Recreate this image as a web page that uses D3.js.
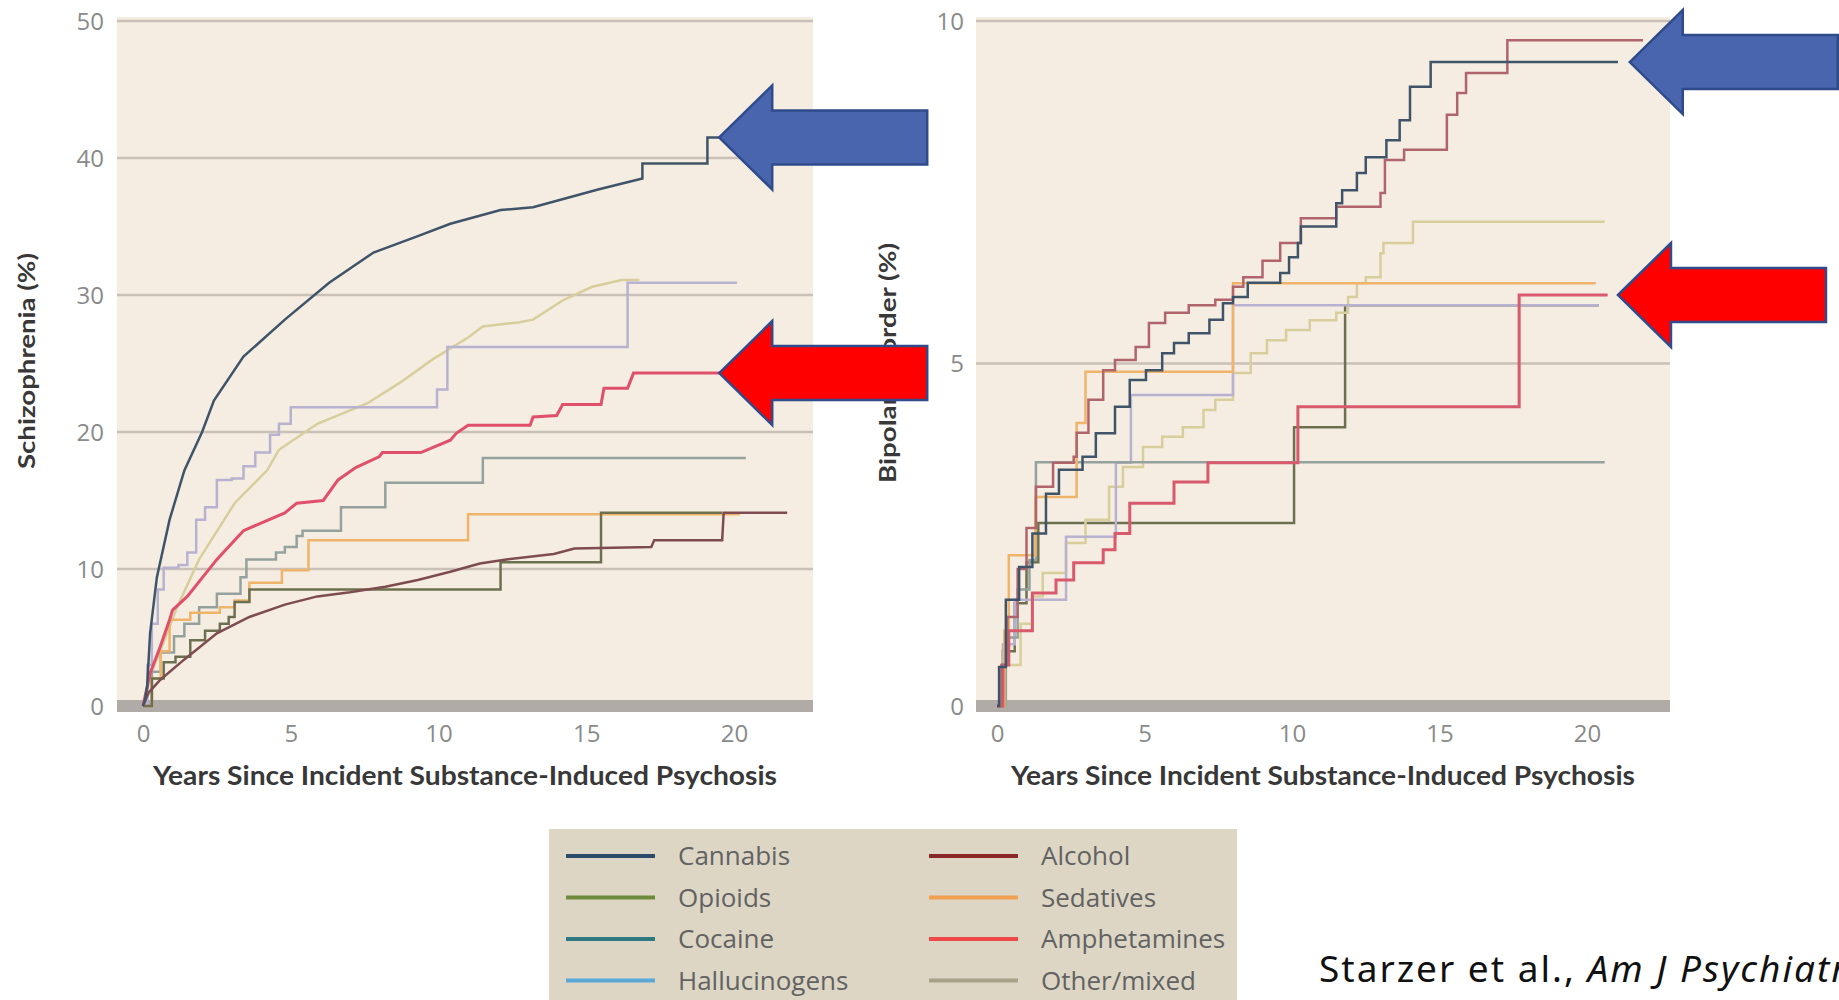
<!DOCTYPE html>
<html>
<head>
<meta charset="utf-8">
<script src="https://cdn.jsdelivr.net/npm/d3@7"></script>
<style>
  body { margin: 0; background: #fff; }
  svg { display: block; }
</style>
</head>
<body>
<div id="container"></div>
<script>
// categories and ticks
const categories = ["Cannabis", "Opioids", "Cocaine", "Hallucinogens", "Alcohol", "Sedatives", "Amphetamines", "Other/mixed"];
const xTickValues = [0, 5, 10, 15, 20];
const schizTicks = [0, 10, 20, 30, 40, 50];
const bipolarTicks = [0, 5, 10];

// Schizophrenia (%), [years, value]
const schizCannabis = [[0,0],[0.07,0.5],[0.14,1.4],[0.24,5.3],[0.47,9.4],[0.9,13.6],[1.4,17.2],[2.0,20.0],[2.4,22.3],[3.4,25.5],[4.8,28.2],[6.3,30.9],[7.8,33.1],[9.3,34.3],[10.4,35.2],[12.1,36.2],[13.2,36.4],[15.4,37.7],[16.9,38.5],[16.9,39.6],[19.1,39.6],[19.1,41.5],[19.6,41.5]];
const schizOther = [[0,0],[0.3,2.5],[0.6,4.1],[1.15,7.2],[1.9,10.7],[3.1,14.8],[4.2,17.2],[4.6,18.7],[5.9,20.6],[7.6,22.1],[8.7,23.6],[9.8,25.3],[11.0,26.9],[11.5,27.7],[12.7,28.0],[13.2,28.2],[14.2,29.6],[15.2,30.6],[16.2,31.1],[16.8,31.1]];
const schizHallucinogens = [[0,0],[0.15,3],[0.3,6],[0.5,8.5],[0.7,10.1],[1.2,10.3],[1.5,11.2],[1.8,13.6],[2.1,14.5],[2.5,16.5],[3.0,16.6],[3.4,17.5],[3.8,18.5],[4.3,19.8],[4.6,20.6],[5.0,21.8],[9.95,23.1],[10.3,26.2],[16.4,30.9],[20.1,30.9]];
const schizAmphetamines = [[0,0],[0.24,2.4],[0.58,4.3],[0.9,6.3],[1.0,7.0],[1.5,8.0],[2.5,10.7],[3.4,12.8],[4.8,14.1],[5.2,14.8],[6.1,15.0],[6.6,16.5],[7.2,17.4],[8.0,18.2],[8.1,18.5],[9.4,18.5],[10.4,19.4],[10.6,19.9],[11.0,20.5],[13.1,20.5],[13.2,21.1],[14.0,21.2],[14.2,22.0],[15.5,22.0],[15.6,23.2],[16.4,23.2],[16.6,24.3],[19.6,24.3]];
const schizCocaine = [[0,0],[0.3,2.5],[0.6,3.9],[1.05,5.1],[1.4,6.0],[1.9,7.2],[2.5,8.2],[3.3,9.4],[3.5,10.7],[4.5,11.2],[4.8,11.6],[5.2,12.4],[5.4,12.8],[6.7,14.5],[8.2,16.3],[11.5,18.1],[20.4,18.1]];
const schizSedatives = [[0,0],[0.3,2.0],[0.6,4.0],[0.9,6.3],[1.6,6.8],[2.6,7.2],[3.1,7.7],[3.6,9.0],[4.7,9.9],[5.6,12.1],[11.0,14.0],[20.2,14.0]];
const schizOpioids = [[0,0],[0.3,2.0],[0.7,3.2],[1.1,3.6],[1.6,4.8],[2.1,5.5],[2.6,6.0],[2.9,6.5],[3.1,7.6],[3.6,8.5],[12.1,10.5],[15.5,14.1],[19.6,14.1]];
const schizAlcohol = [[0,0],[0.2,1.0],[0.58,1.9],[1.4,3.4],[2.5,5.3],[3.6,6.5],[4.8,7.4],[5.9,8.0],[7.0,8.3],[8.2,8.7],[9.3,9.2],[10.4,9.8],[11.4,10.4],[12.3,10.7],[13.9,11.1],[14.6,11.5],[17.2,11.6],[17.3,12.1],[19.6,12.1],[19.65,14.1],[21.8,14.1]];

// Bipolar disorder (%), [years, value]
const bipCannabis = [[0,0],[0.07,0.57],[0.3,1.55],[0.75,2.03],[1.2,2.52],[1.66,3.1],[2.1,3.45],[2.9,3.64],[3.35,3.98],[4.0,4.37],[4.5,4.76],[5.05,4.9],[5.6,5.15],[6.0,5.3],[6.5,5.44],[7.2,5.64],[7.66,5.88],[8.0,5.97],[8.5,6.18],[9.6,6.32],[9.9,6.55],[10.2,6.76],[10.3,7.0],[11.5,7.34],[11.7,7.53],[12.2,7.78],[12.5,8.01],[13.2,8.26],[13.65,8.55],[14.0,9.04],[14.7,9.4],[21.05,9.4]];
const bipAlcohol = [[0,0],[0.15,0.6],[0.35,1.3],[0.7,2.0],[1.0,2.6],[1.32,3.2],[1.9,3.55],[2.6,3.64],[2.7,3.99],[3.1,4.47],[3.6,4.9],[4.0,5.05],[4.7,5.24],[5.15,5.59],[5.7,5.74],[6.5,5.85],[7.4,5.93],[8.0,6.12],[8.35,6.26],[9.0,6.5],[9.6,6.76],[10.3,7.12],[11.5,7.29],[13.0,7.49],[13.15,7.97],[13.8,8.12],[15.25,8.63],[15.6,8.95],[15.9,9.24],[17.3,9.72],[21.9,9.72]];
const bipOther = [[0,0],[0.3,0.6],[0.8,1.2],[1.2,1.6],[1.55,1.94],[2.34,2.38],[3.0,2.72],[3.8,3.2],[4.27,3.49],[4.95,3.78],[5.6,3.93],[6.3,4.07],[7.0,4.32],[7.4,4.47],[8.0,4.86],[8.6,5.15],[9.15,5.34],[9.8,5.49],[10.6,5.63],[11.5,5.74],[11.9,5.97],[12.2,6.17],[12.5,6.26],[13.0,6.61],[13.1,6.76],[14.1,7.07],[20.6,7.07]];
const bipSedatives = [[0,0],[0.25,1.1],[0.4,2.2],[1.3,3.05],[2.7,4.13],[3.0,4.88],[8.0,6.17],[20.3,6.17]];
const bipHallucinogens = [[0,0],[0.2,0.9],[0.6,1.55],[2.34,2.47],[4.03,3.55],[4.54,4.54],[8.0,5.85],[20.4,5.85]];
const bipAmphetamines = [[0,0],[0.2,0.6],[0.4,1.1],[1.2,1.65],[2.0,1.84],[2.6,2.09],[3.6,2.28],[4.0,2.52],[4.5,2.96],[6.0,3.27],[7.15,3.55],[10.2,4.37],[17.7,6.0],[20.7,6.0]];
const bipOpioids = [[0,0],[0.2,0.8],[0.6,1.5],[1.0,2.1],[1.4,2.67],[10.07,4.07],[11.8,5.85],[20.4,5.85]];
const bipCocaine = [[0,0],[0.3,1.0],[0.7,1.7],[1.1,2.13],[1.32,3.56],[20.6,3.56]];

// colours
const lineColor = {
  "Cannabis": "#3f5468", "Opioids": "#6d7050", "Cocaine": "#95a19c", "Hallucinogens": "#b8b1d0",
  "Alcohol": "#7e4c50", "Sedatives": "#efb46a", "Amphetamines": "#e0506a", "Other/mixed": "#d8ce9c"
};
const legendColor = {
  "Cannabis": "#2e4a6a", "Opioids": "#6e8a3a", "Cocaine": "#2e7a80", "Hallucinogens": "#5aa8d8",
  "Alcohol": "#8a2828", "Sedatives": "#f0a050", "Amphetamines": "#ee4848", "Other/mixed": "#a8a088"
};

const width = 1839, height = 1000;
const yTop = 21, yZero = 706;

const panels = [
  {
    title: "Schizophrenia (%)", titleLen: 216, yMax: 50, ticks: schizTicks,
    left: 117, right: 813, x0: 143, x20: 734, tickX: 104, titleX: 27, titleY: 361,
    series: [
      { name: "Other/mixed", data: schizOther, curve: d3.curveLinear },
      { name: "Hallucinogens", data: schizHallucinogens, curve: d3.curveStepAfter },
      { name: "Cocaine", data: schizCocaine, curve: d3.curveStepAfter },
      { name: "Sedatives", data: schizSedatives, curve: d3.curveStepAfter },
      { name: "Opioids", data: schizOpioids, curve: d3.curveStepAfter },
      { name: "Alcohol", data: schizAlcohol, curve: d3.curveLinear },
      { name: "Amphetamines", data: schizAmphetamines, curve: d3.curveLinear },
      { name: "Cannabis", data: schizCannabis, curve: d3.curveLinear }
    ],
    arrows: [
      { x: 19.5, y: 41.5, fill: "#4865ad" },
      { x: 19.5, y: 24.3, fill: "#ff0000" }
    ]
  },
  {
    title: "Bipolar disorder (%)", titleLen: 240, yMax: 10, ticks: bipolarTicks,
    left: 976, right: 1670, x0: 997, x20: 1587, tickX: 964, titleX: 888, titleY: 363,
    series: [
      { name: "Opioids", data: bipOpioids, curve: d3.curveStepAfter },
      { name: "Other/mixed", data: bipOther, curve: d3.curveStepAfter },
      { name: "Hallucinogens", data: bipHallucinogens, curve: d3.curveStepAfter },
      { name: "Cocaine", data: bipCocaine, curve: d3.curveStepAfter },
      { name: "Sedatives", data: bipSedatives, curve: d3.curveStepAfter },
      { name: "Amphetamines", data: bipAmphetamines, curve: d3.curveStepAfter, color: "#d85a6c" },
      { name: "Alcohol", data: bipAlcohol, curve: d3.curveStepAfter, color: "#b0646c" },
      { name: "Cannabis", data: bipCannabis, curve: d3.curveStepAfter }
    ],
    arrows: [
      { x: 21.45, y: 9.4, fill: "#4865ad" },
      { x: 21.05, y: 6.0, fill: "#ff0000" }
    ]
  }
];

const svg = d3.select("#container")
  .append("svg")
  .attr("width", width)
  .attr("height", height);

const arrowLayer = [];

panels.forEach(p => {
  const xScale = d3.scaleLinear().domain([0, 20]).range([p.x0, p.x20]);
  const yScale = d3.scaleLinear().domain([0, p.yMax]).range([yZero, yTop]);

  // plot background
  svg.append("rect")
    .attr("x", p.left)
    .attr("y", yTop - 4)
    .attr("width", p.right - p.left)
    .attr("height", yZero - yTop + 4)
    .attr("fill", "#f5ede2");

  // gridlines
  svg.append("g")
    .selectAll("line")
    .data(p.ticks.filter(t => t > 0))
    .join("line")
    .attr("x1", p.left)
    .attr("x2", p.right)
    .attr("y1", d => yScale(d))
    .attr("y2", d => yScale(d))
    .attr("stroke", "#c9c1b8")
    .attr("stroke-width", 2.5);

  // thick baseline
  svg.append("rect")
    .attr("x", p.left)
    .attr("y", yScale(0) - 6)
    .attr("width", p.right - p.left)
    .attr("height", 12)
    .attr("fill", "#b0aba6");

  // survival curves
  p.series.forEach(s => {
    const line = d3.line()
      .x(d => xScale(d[0]))
      .y(d => yScale(d[1]))
      .curve(s.curve);
    svg.append("path")
      .datum(s.data)
      .attr("fill", "none")
      .attr("stroke", s.color || lineColor[s.name])
      .attr("stroke-width", s.name === "Amphetamines" ? 3 : 2.5)
      .attr("d", line);
  });

  // axes
  svg.append("g")
    .attr("transform", `translate(0, 734)`)
    .call(d3.axisBottom(xScale).tickValues(xTickValues).tickSize(0).tickPadding(0))
    .call(g => g.select(".domain").remove())
    .call(g => g.selectAll("text")
      .attr("y", 0)
      .attr("dy", "0.35em")
      .attr("fill", "#8a8a8a")
      .style("font-family", "Open Sans")
      .style("font-size", "24px"));

  svg.append("g")
    .attr("transform", `translate(${p.tickX}, 0)`)
    .call(d3.axisLeft(yScale).tickValues(p.ticks).tickSize(0).tickPadding(0))
    .call(g => g.select(".domain").remove())
    .call(g => g.selectAll("text")
      .attr("x", 0)
      .attr("dy", "0.35em")
      .attr("fill", "#8a8a8a")
      .style("font-family", "Open Sans")
      .style("font-size", "24px"));

  // axis titles
  svg.append("text")
    .attr("x", (p.left + p.right) / 2)
    .attr("y", 785)
    .attr("text-anchor", "middle")
    .attr("textLength", 624)
    .attr("lengthAdjust", "spacingAndGlyphs")
    .style("font-family", "Lato")
    .style("font-weight", "bold")
    .style("font-size", "26px")
    .attr("fill", "#383838")
    .text("Years Since Incident Substance-Induced Psychosis");

  svg.append("text")
    .attr("transform", `translate(${p.titleX}, ${p.titleY}) rotate(-90)`)
    .attr("text-anchor", "middle")
    .attr("dy", "0.35em")
    .attr("textLength", p.titleLen)
    .attr("lengthAdjust", "spacingAndGlyphs")
    .style("font-family", "Lato")
    .style("font-weight", "bold")
    .style("font-size", "23px")
    .attr("fill", "#383838")
    .text(p.title);

  p.arrows.forEach(a => arrowLayer.push({ tx: xScale(a.x), ty: yScale(a.y), fill: a.fill }));
});

// block arrows on top
const arrowPath = (tx, ty) => {
  const head = 53, headH = 52, bodyH = 27, body = 155;
  return `M${tx},${ty} L${tx + head},${ty - headH} L${tx + head},${ty - bodyH} L${tx + head + body},${ty - bodyH} ` +
         `L${tx + head + body},${ty + bodyH} L${tx + head},${ty + bodyH} L${tx + head},${ty + headH} Z`;
};
svg.append("g")
  .selectAll("path")
  .data(arrowLayer)
  .join("path")
  .attr("d", d => arrowPath(d.tx, d.ty))
  .attr("fill", d => d.fill)
  .attr("stroke", "#2f4b8c")
  .attr("stroke-width", 2.5);

// legend
const legend = svg.append("g");
legend.append("rect")
  .attr("x", 549)
  .attr("y", 829)
  .attr("width", 688)
  .attr("height", 180)
  .attr("fill", "#ddd6c5");

const item = legend.selectAll("g.item")
  .data(categories)
  .join("g")
  .attr("class", "item")
  .attr("transform", (d, i) => `translate(${i < 4 ? 566 : 929}, ${856 + (i % 4) * 41.5})`);

item.append("line")
  .attr("x1", 0)
  .attr("x2", 89)
  .attr("stroke", d => legendColor[d])
  .attr("stroke-width", 4);

item.append("text")
  .attr("x", 112)
  .attr("dy", "0.35em")
  .attr("fill", "#626262")
  .style("font-family", "Open Sans")
  .style("font-size", "26px")
  .text(d => d);

// citation
const cite = svg.append("text")
  .attr("x", 1319)
  .attr("y", 982)
  .attr("fill", "#111")
  .style("font-family", "Noto Sans")
  .style("font-size", "37px")
  .style("letter-spacing", "2px");
cite.append("tspan").text("Starzer et al., ");
cite.append("tspan").style("font-style", "italic").text("Am J Psychiatry");
</script>
</body>
</html>
